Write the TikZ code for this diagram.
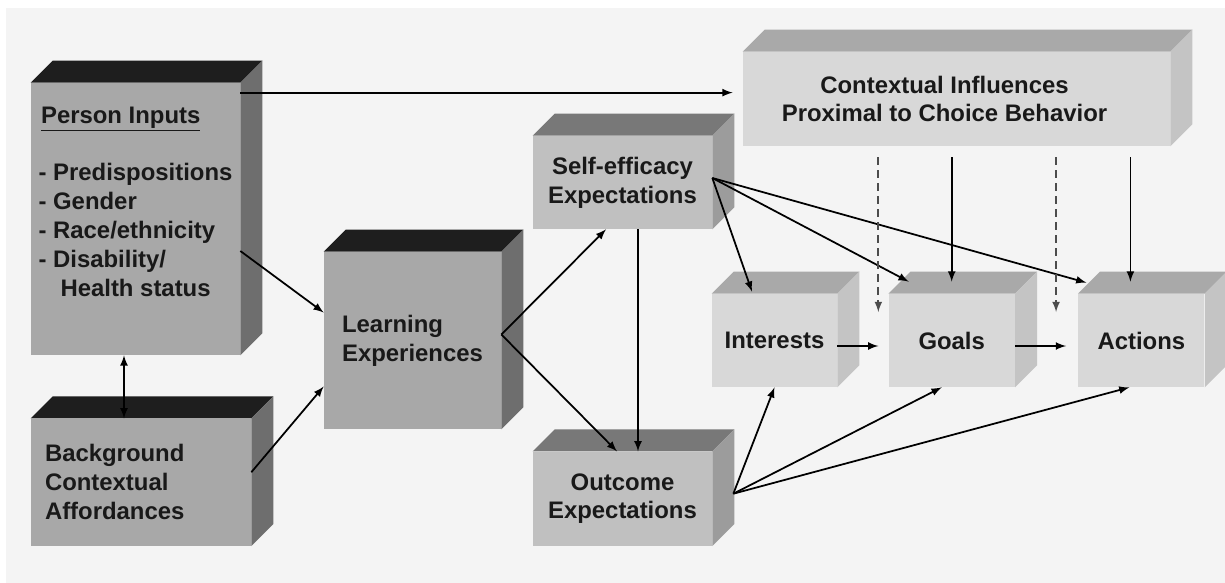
\documentclass[tikz,border=0pt]{standalone}
\usepackage{fontspec}
\setmainfont{Liberation Sans}
\usetikzlibrary{positioning}

\definecolor{paper}{HTML}{F4F4F4}
\definecolor{darkfront}{HTML}{A8A8A8}
\definecolor{darktop}{HTML}{1E1E1E}
\definecolor{darkside}{HTML}{6E6E6E}
\definecolor{midfront}{HTML}{C0C0C0}
\definecolor{midtop}{HTML}{787878}
\definecolor{midside}{HTML}{9C9C9C}
\definecolor{litefront}{HTML}{D8D8D8}
\definecolor{litetop}{HTML}{A9A9A9}
\definecolor{liteside}{HTML}{C4C4C4}

\begin{document}
\begin{tikzpicture}[
box/.style={rectangle,
  fill=#1,
  inner sep=0pt,
  align=center,
  font=\fontsize{13.6}{16.4}\selectfont\bfseries,
  text=black!90
},
link/.style={->, line width=1pt},
dashlink/.style={->, line width=1pt, black!70, dash pattern=on 0.16cm off 0.1cm},
>=latex
]
\useasboundingbox (0,0) rectangle (24.5,-11.66);
\fill[paper] (0.12,-0.16) rectangle (24.5,-11.66);

% front faces
\node[box=darkfront, minimum width=4.18cm, minimum height=5.44cm, align=left, text depth=0.7cm] (person) at (2.71,-4.38)
    {\hspace*{0.05cm}\underline{Person Inputs}\\[0.58cm]
     - Predispositions\\ - Gender\\ - Race/ethnicity\\ - Disability/\\ \hspace*{0.44cm}Health status};
\node[box=darkfront, minimum width=4.4cm, minimum height=2.54cm, text width=3.84cm, align=left, anchor=north west] (background) at ([yshift=-1.26cm]person.south west)
    {Background\\ Contextual\\ Affordances};
\node[box=darkfront, minimum width=3.54cm, minimum height=3.54cm, align=left] (learning) at (8.25,-6.81)
    {Learning\\ Experiences};
\node[box=midfront, minimum width=3.58cm, minimum height=1.86cm] (selfeff) at (12.45,-3.65)
    {Self-efficacy\\ Expectations};
\node[box=midfront, minimum width=3.58cm, minimum height=1.88cm, below=4.44cm of selfeff] (outcome)
    {Outcome\\ Expectations};
\node[box=litefront, minimum width=8.54cm, minimum height=1.88cm] (context) at (19.13,-1.98)
    {Contextual Influences\hspace*{0.48cm}\\ Proximal to Choice Behavior\hspace*{0.48cm}};
\node[box=litefront, minimum width=2.5cm, minimum height=1.86cm] (interests) at (15.49,-6.81)
    {Interests};
\node[box=litefront, minimum width=2.52cm, minimum height=1.86cm, right=1.02cm of interests] (goals)
    {Goals};
\node[box=litefront, minimum width=2.52cm, minimum height=1.86cm, right=1.26cm of goals] (actions)
    {Actions};

% top and side faces
\foreach \n/\tc/\sc in {person/darktop/darkside, background/darktop/darkside, learning/darktop/darkside,
    selfeff/midtop/midside, outcome/midtop/midside,
    context/litetop/liteside, interests/litetop/liteside, goals/litetop/liteside, actions/litetop/liteside}
{
  \fill[\tc] (\n.north west) -- ++(0.44,0.44) -- ([shift={(0.44,0.44)}]\n.north east) -- (\n.north east) -- cycle;
  \fill[\sc] (\n.north east) -- ++(0.44,0.44) -- ([shift={(0.44,0.44)}]\n.south east) -- (\n.south east) -- cycle;
}

\draw[link] ([yshift=-0.2cm]person.north east) -- ([xshift=-0.2cm,yshift=-0.2cm]person.north east -| context.west);
\draw[link] ([yshift=-0.64cm]person.east) -- ([yshift=0.56cm]learning.west);
\draw[link] ([yshift=0.2cm]background.east) -- ([yshift=-0.92cm]learning.west);
\draw[link, <->] ([xshift=-0.23cm]person.south) -- ([xshift=-0.23cm]person.south |- background.north);

\draw[link] ([yshift=0.12cm]learning.east) -- ([xshift=-0.33cm]selfeff.south);
\draw[link] ([yshift=0.12cm]learning.east) -- ([xshift=-0.11cm]outcome.north);
\draw[link] ([xshift=0.31cm]selfeff.south) -- ([xshift=0.31cm]outcome.north);

\draw[link] ([yshift=0.09cm]selfeff.east) -- ([xshift=-0.45cm,yshift=0.04cm]interests.north);
\draw[link] ([yshift=0.09cm]selfeff.east) -- ([xshift=-0.86cm,yshift=0.24cm]goals.north);
\draw[link] ([yshift=0.09cm]selfeff.east) -- ([xshift=-1.1cm,yshift=0.22cm]actions.north);

\draw[link] ([yshift=-0.22cm]context.south -| goals.north) -- ([yshift=0.24cm]goals.north);
\draw[link] ([xshift=-0.22cm,yshift=-0.22cm]context.south -| actions.north) -- ([xshift=-0.22cm,yshift=0.24cm]actions.north);
\draw[dashlink] ([xshift=-0.2cm,yshift=-0.22cm]context.south -| goals.west) -- ([xshift=-0.2cm,yshift=0.57cm]goals.west);
\draw[dashlink] ([xshift=-0.44cm,yshift=-0.22cm]context.south -| actions.west) -- ([xshift=-0.44cm,yshift=0.57cm]actions.west);

\draw[link] ([yshift=-0.11cm]interests.east) -- ([xshift=-0.2cm,yshift=-0.11cm]goals.west);
\draw[link] ([yshift=-0.11cm]goals.east) -- ([xshift=-0.24cm,yshift=-0.11cm]actions.west);

\draw[link] ([xshift=0.42cm,yshift=0.1cm]outcome.east) -- (interests.south);
\draw[link] ([xshift=0.42cm,yshift=0.1cm]outcome.east) -- ([xshift=-0.2cm]goals.south);
\draw[link] ([xshift=0.42cm,yshift=0.1cm]outcome.east) -- ([xshift=-0.24cm]actions.south);
\end{tikzpicture}
\end{document}
